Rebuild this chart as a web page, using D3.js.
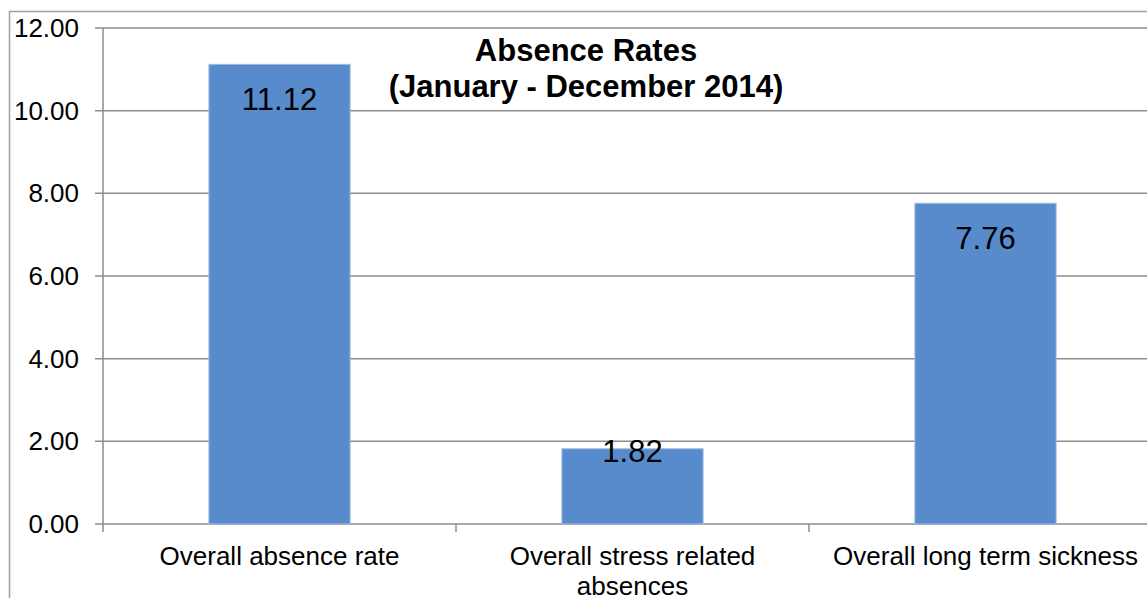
<!DOCTYPE html>
<html lang="en">
	<head>
		<meta charset="utf-8">
		<title>Absence Rates</title>
		<script type="text/javascript" src="https://d3js.org/d3.v7.min.js"></script>
		<style type="text/css">
			body {
				margin: 0;
				background: #fff;
				overflow: hidden;
			}
			text {
				font-family: "Liberation Sans", Arial, sans-serif;
				fill: #000;
			}
		</style>
	</head>
	<body>
		<script type="text/javascript">
			// chart data
			var categories = ["Overall absence rate", "Overall stress related absences", "Overall long term sickness"];
			var categoryLines = [["Overall absence rate"], ["Overall stress related", "absences"], ["Overall long term sickness"]];
			var values = [11.12, 1.82, 7.76];
			var yTicks = [0, 2, 4, 6, 8, 10, 12];
			var titleLines = ["Absence Rates", "(January - December 2014)"];

			var w = 1147;
			var h = 598;
			// note: "top" is taken by window.top, so plot* names
			var plotLeft = 103, plotTop = 28, plotBottom = 524;

			var svg = d3.select("body")
						.append("svg")
						.attr("width", w)
						.attr("height", h);

			// outer chart border (runs off the right / bottom edge)
			svg.append("rect")
			   .attr("x", 9.5)
			   .attr("y", 11.5)
			   .attr("width", w + 20)
			   .attr("height", h + 20)
			   .attr("fill", "none")
			   .attr("stroke", "#a0a0a0")
			   .attr("stroke-width", 1.5);

			var x = d3.scaleBand()
					  .domain(categories)
					  .range([plotLeft, plotLeft + 353 * 3]);

			var y = d3.scaleLinear()
					  .domain([0, 12])
					  .range([plotBottom, plotTop]);

			// gridlines
			svg.append("g")
			   .selectAll("line")
			   .data(yTicks)
			   .enter()
			   .append("line")
			   .attr("x1", plotLeft - 8)
			   .attr("x2", w)
			   .attr("y1", function(d) { return y(d); })
			   .attr("y2", function(d) { return y(d); })
			   .attr("stroke", "#8c8c8c")
			   .attr("stroke-width", 1.5);

			// y axis line
			svg.append("line")
			   .attr("x1", plotLeft).attr("x2", plotLeft)
			   .attr("y1", plotTop).attr("y2", plotBottom + 8)
			   .attr("stroke", "#8c8c8c")
			   .attr("stroke-width", 1.5);

			// category tick marks
			svg.append("g")
			   .selectAll("line")
			   .data(categories.slice(1))
			   .enter()
			   .append("line")
			   .attr("x1", function(d) { return x(d); })
			   .attr("x2", function(d) { return x(d); })
			   .attr("y1", plotBottom)
			   .attr("y2", plotBottom + 8)
			   .attr("stroke", "#8c8c8c")
			   .attr("stroke-width", 1.5);

			// y tick labels
			svg.append("g")
			   .selectAll("text")
			   .data(yTicks)
			   .enter()
			   .append("text")
			   .attr("x", 79)
			   .attr("y", function(d) { return y(d) + 9; })
			   .attr("text-anchor", "end")
			   .attr("font-size", "26px")
			   .text(function(d) { return d.toFixed(2); });

			// bars
			var barW = x.bandwidth() * 0.4;
			svg.append("g")
			   .selectAll("rect")
			   .data(values)
			   .enter()
			   .append("rect")
			   .attr("x", function(d, i) { return x(categories[i]) + (x.bandwidth() - barW) / 2; })
			   .attr("y", function(d) { return y(d); })
			   .attr("width", barW)
			   .attr("height", function(d) { return plotBottom - y(d); })
			   .attr("fill", "#588bcb")
			   .attr("stroke", "#9fbbe2")
			   .attr("stroke-width", 1);

			// value labels
			svg.append("g")
			   .selectAll("text")
			   .data(values)
			   .enter()
			   .append("text")
			   .attr("x", function(d, i) { return x(categories[i]) + x.bandwidth() / 2; })
			   .attr("y", function(d) {
			   		// short bars get the label at the top edge
			   		var hgt = plotBottom - y(d);
			   		return hgt < 100 ? y(d) + 13 : y(d) + 46;
			   	})
			   .attr("text-anchor", "middle")
			   .attr("font-size", "31px")
			   .text(function(d) { return d.toFixed(2); });

			// category labels
			categoryLines.forEach(function(lines, i) {
				var t = svg.append("text")
						   .attr("text-anchor", "middle")
						   .attr("font-size", "26px");
				lines.forEach(function(line, j) {
					t.append("tspan")
					 .attr("x", x(categories[i]) + x.bandwidth() / 2)
					 .attr("y", 565 + j * 30)
					 .text(line);
				});
			});

			// title
			svg.append("g")
			   .selectAll("text")
			   .data(titleLines)
			   .enter()
			   .append("text")
			   .attr("x", 586)
			   .attr("y", function(d, i) { return 61 + i * 36; })
			   .attr("text-anchor", "middle")
			   .attr("font-size", "31px")
			   .attr("font-weight", "bold")
			   .text(function(d) { return d; });
		</script>
	</body>
</html>
